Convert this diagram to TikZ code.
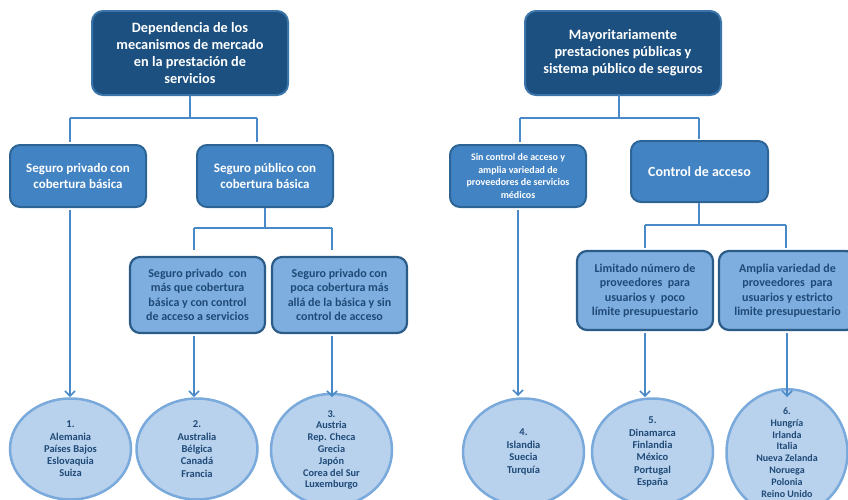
\documentclass[tikz,border=0pt]{standalone}
\usepackage{fontspec}
\setmainfont{Carlito}[BoldFont={Carlito Bold}]
\usetikzlibrary{arrows.meta,shapes.geometric}
\definecolor{darkfill}{HTML}{1B5080}
\definecolor{darkedge}{HTML}{3A74A8}
\definecolor{midfill}{HTML}{4283C3}
\definecolor{midedge}{HTML}{2D6496}
\definecolor{lightfill}{HTML}{7DAEDF}
\definecolor{lightedge}{HTML}{2B5C88}
\definecolor{ellfill}{HTML}{B8D1EC}
\definecolor{elledge}{HTML}{7AAADB}
\definecolor{txtdark}{HTML}{1F4A78}
\definecolor{conn}{HTML}{4A89C8}
\begin{document}
\begin{tikzpicture}[x=1pt,y=-1pt,
  topbox/.style={rectangle, rounded corners=11pt, fill=darkfill, draw=darkedge, line width=2pt,
    text=white, font=\bfseries\fontsize{14.3}{17}\selectfont, align=center,
    minimum width=196pt, minimum height=84pt, inner sep=0pt},
  midbox/.style={rectangle, rounded corners=10pt, fill=midfill, draw=midedge, line width=2pt,
    text=white, font=\bfseries\fontsize{13}{16}\selectfont, align=center,
    minimum width=136pt, minimum height=62pt, inner sep=0pt},
  lowbox/.style={rectangle, rounded corners=10pt, fill=lightfill, draw=lightedge, line width=2.2pt,
    text=txtdark, font=\bfseries\fontsize{12}{14.5}\selectfont, align=center,
    minimum width=135pt, minimum height=76pt, inner sep=0pt},
  country/.style={ellipse, fill=ellfill, draw=elledge, line width=2.5pt,
    text=txtdark, font=\bfseries\fontsize{10.5}{12.3}\selectfont, align=center,
    minimum width=121pt, minimum height=101pt, inner sep=0pt},
  countryR/.style={country, minimum height=107pt},
  link/.style={draw=conn, line width=1.5pt},
  arr/.style={draw=conn, line width=1.5pt, -{Straight Barb[length=5pt,width=10pt]}}
]
\useasboundingbox (0,0) rectangle (848,499);

% top boxes
\node[topbox] (topL) at (190,53) {Dependencia de los\\mecanismos de mercado\\en la prestación de\\servicios};
\node[topbox] (topR) at (623,53) {Mayoritariamente\\prestaciones públicas y\\sistema público de seguros};

% second level
\node[midbox] (a1) at (78,176) {Seguro privado con\\cobertura básica};
\node[midbox] (a2) at (265,176) {Seguro público con\\cobertura básica};
\node[midbox, font=\bfseries\fontsize{10}{12.5}\selectfont] (b1) at (518,176) {Sin control de acceso y\\amplia variedad de\\proveedores de servicios\\médicos};
\node[midbox, font=\bfseries\fontsize{14}{17}\selectfont, minimum width=137pt, minimum height=61pt] (b2) at (699.5,171.5) {Control de acceso};

% third level
\node[lowbox] (c1) at (197.5,295) {Seguro privado\ \ con\\más que cobertura\\básica y con control\\de acceso a servicios};
\node[lowbox] (c2) at (339.5,295) {Seguro privado con\\poca cobertura más\\allá de la básica y sin\\control de acceso};
\node[lowbox, minimum width=136pt, minimum height=79pt] (d1) at (645,290.5) {Limitado número de\\proveedores\ \ para\\usuarios y\ \ poco\\límite presupuestario};
\node[lowbox, minimum width=137pt, minimum height=79pt] (d2) at (787.5,290.5) {Amplia variedad de\\proveedores\ \ para\\usuarios y estricto\\limite presupuestario};

% ellipses
\node[country] (e1) at (70.5,449) {1.\\Alemania\\Países Bajos\\Eslovaquia\\Suiza};
\node[country] (e2) at (197,449) {2.\\Australia\\Bélgica\\Canadá\\Francia};
\node[country, font=\bfseries\fontsize{10.3}{11.8}\selectfont] (e3) at (331.5,450) {3.\\Austria\\Rep. Checa\\Grecia\\Japón\\Corea del Sur\\Luxemburgo};
\node[countryR, font=\bfseries\fontsize{10.5}{12.7}\selectfont] (e4) at (523.5,452) {4.\\Islandia\\Suecia\\Turquía};
\node[countryR] (e5) at (652.5,452) {5.\\Dinamarca\\Finlandia\\México\\Portugal\\España};
\node[countryR, font=\bfseries\fontsize{10}{11.8}\selectfont] (e6) at (787,452.5) {6.\\Hungría\\Irlanda\\Italia\\Nueva Zelanda\\Noruega\\Polonia\\Reino Unido};

% connector coordinates
\coordinate (jL) at (190,118);
\coordinate (jA) at (265,228);
\coordinate (jR) at (619,118);
\coordinate (jB) at (699,225);

% left tree
\draw[link] (topL.south) -- (jL);
\draw[link] (70,118) -- (257,118);
\draw[link] (70,118) -- (70,142);
\draw[link] (257,118) -- (257,142);
\draw[link] (a2.south) -- (jA);
\draw[link] (194,228) -- (332,228);
\draw[link] (194,228) -- (194,250);
\draw[link] (332,228) -- (332,250);
\draw[arr] (70,210) -- (70,397);
\draw[arr] (194,336) -- (194,397);
\draw[arr] (332,336) -- (332,397);

% right tree
\draw[link] (619,95) -- (jR);
\draw[link] (520,118) -- (699,118);
\draw[link] (520,118) -- (520,142);
\draw[link] (699,118) -- (699,139);
\draw[link] (699,203) -- (jB);
\draw[link] (645,225) -- (786,225);
\draw[link] (645,225) -- (645,248);
\draw[link] (786,225) -- (786,248);
\draw[arr] (518,210) -- (518,396);
\draw[arr] (645,333) -- (645,397);
\draw[arr] (787,333) -- (787,397);
\end{tikzpicture}
\end{document}
